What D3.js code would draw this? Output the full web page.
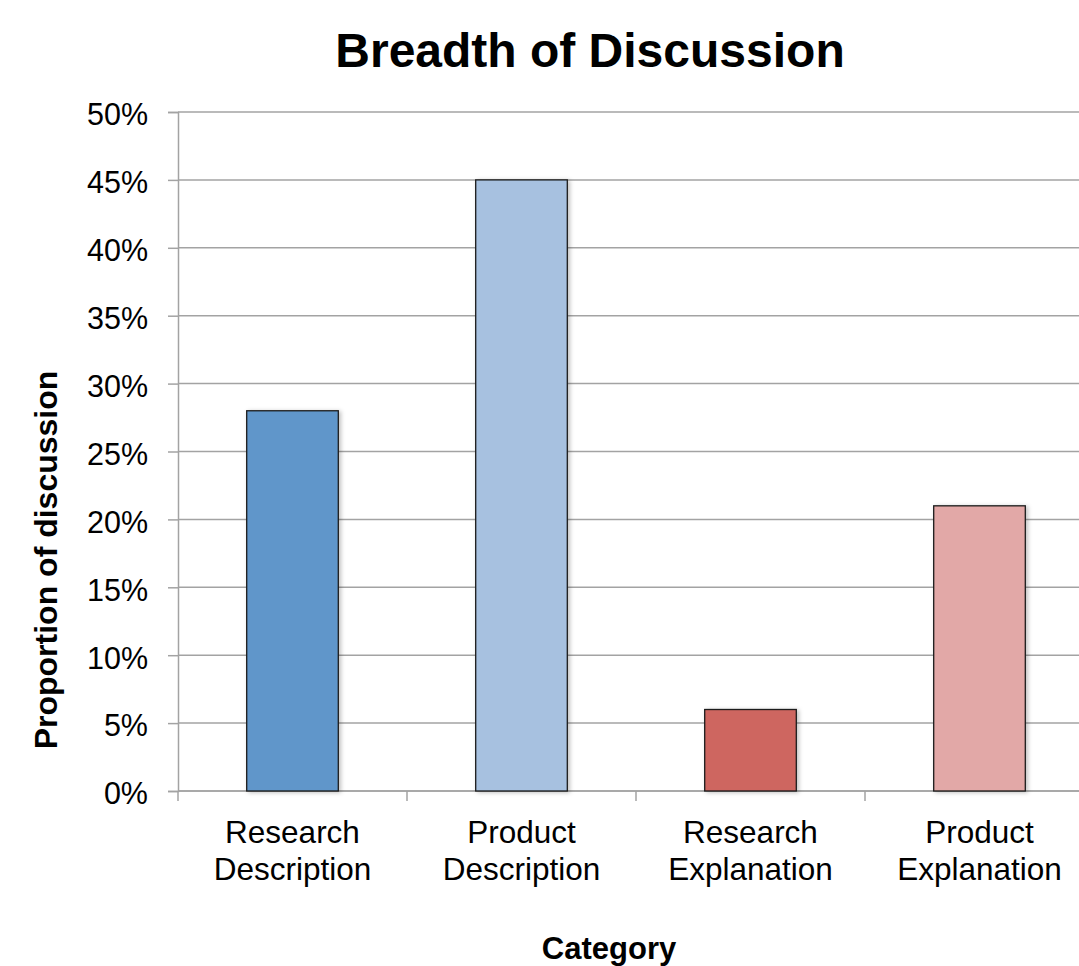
<!DOCTYPE html>
<html>
<head>
<meta charset="utf-8">
<script src="https://cdn.jsdelivr.net/npm/d3@7"></script>
<style>
  html, body { margin: 0; padding: 0; background: #fff; }
  svg { display: block; font-family: "Liberation Sans", Arial, sans-serif; }
</style>
</head>
<body>
<svg id="chart" width="1079" height="966"></svg>
<script>
// Share of discussion by category
const categories = [["Research", "Description"], ["Product", "Description"], ["Research", "Explanation"], ["Product", "Explanation"]];
const values = [0.28, 0.45, 0.06, 0.21];
const barColors = ["#6096CA", "#A7C1E0", "#CE6660", "#E2A8A7"];
const yTicks = [0, 0.05, 0.10, 0.15, 0.20, 0.25, 0.30, 0.35, 0.40, 0.45, 0.50];

const svg = d3.select("#chart");
const plot = { left: 178, right: 1094, top: 112, bottom: 791 };
const gridColor = "#A3A3A3";

const x = d3.scaleBand()
  .domain(d3.range(categories.length))
  .range([plot.left, plot.right])
  .paddingInner(0.6)
  .paddingOuter(0.3);

const y = d3.scaleLinear().domain([0, 0.5]).range([plot.bottom, plot.top]);

// soft shadow under the bars
const defs = svg.append("defs");
const f = defs.append("filter").attr("id", "shadow")
  .attr("x", "-20%").attr("y", "-20%").attr("width", "140%").attr("height", "140%");
f.append("feDropShadow").attr("dx", 2).attr("dy", 1).attr("stdDeviation", 2)
  .attr("flood-color", "#000").attr("flood-opacity", 0.25);

// horizontal gridlines
svg.append("g")
  .selectAll("line")
  .data(yTicks)
  .join("line")
  .attr("x1", plot.left)
  .attr("x2", plot.right)
  .attr("y1", d => y(d))
  .attr("y2", d => y(d))
  .attr("stroke", gridColor)
  .attr("stroke-width", 1.5);

// y axis
const yAxis = svg.append("g")
  .attr("transform", `translate(${plot.left},0)`)
  .call(d3.axisLeft(y).tickValues(yTicks).tickFormat(d3.format(".0%")).tickSize(10).tickPadding(20));
yAxis.select(".domain").attr("stroke", gridColor).attr("stroke-width", 1.5);
yAxis.selectAll(".tick line").attr("stroke", gridColor).attr("stroke-width", 1.5);
yAxis.selectAll(".tick text")
  .attr("font-size", 30.5)
  .attr("dy", "0.42em")
  .attr("fill", "#000")
  .attr("font-family", "'Liberation Sans', Arial, sans-serif");

// x axis baseline with category boundary ticks
const step = x.step();
const start = x(0) - x.paddingOuter() * step;
const xg = svg.append("g");
xg.append("line")
  .attr("x1", plot.left).attr("x2", plot.right)
  .attr("y1", plot.bottom).attr("y2", plot.bottom)
  .attr("stroke", gridColor).attr("stroke-width", 1.5);
xg.selectAll("line.tick")
  .data(d3.range(categories.length + 1))
  .join("line")
  .attr("class", "tick")
  .attr("x1", i => start + i * step)
  .attr("x2", i => start + i * step)
  .attr("y1", plot.bottom)
  .attr("y2", plot.bottom + 10)
  .attr("stroke", gridColor).attr("stroke-width", 1.5);

// bars
svg.append("g")
  .selectAll("rect")
  .data(values)
  .join("rect")
  .attr("x", (d, i) => x(i))
  .attr("width", x.bandwidth())
  .attr("y", d => y(d))
  .attr("height", d => y(0) - y(d))
  .attr("fill", (d, i) => barColors[i])
  .attr("stroke", "#1a1a1a")
  .attr("stroke-width", 1.3)
  .attr("filter", "url(#shadow)");

// category labels (two lines each)
const labels = svg.append("g")
  .selectAll("text")
  .data(categories)
  .join("text")
  .attr("x", (d, i) => x(i) + x.bandwidth() / 2)
  .attr("y", 843)
  .attr("text-anchor", "middle")
  .attr("font-size", 31.5)
  .attr("fill", "#000");
labels.each(function(d, i) {
  const t = d3.select(this);
  d.forEach((line, j) => {
    t.append("tspan")
      .attr("x", x(i) + x.bandwidth() / 2)
      .attr("dy", j === 0 ? 0 : 37)
      .text(line);
  });
});

// titles
svg.append("text")
  .attr("x", 590).attr("y", 67)
  .attr("text-anchor", "middle")
  .attr("font-size", 48).attr("font-weight", "bold")
  .text("Breadth of Discussion");

svg.append("text")
  .attr("x", 609).attr("y", 959)
  .attr("text-anchor", "middle")
  .attr("font-size", 31).attr("font-weight", "bold")
  .text("Category");

svg.append("text")
  .attr("transform", "translate(57,560) rotate(-90)")
  .attr("text-anchor", "middle")
  .attr("font-size", 32).attr("font-weight", "bold")
  .text("Proportion of discussion");
</script>
</body>
</html>
